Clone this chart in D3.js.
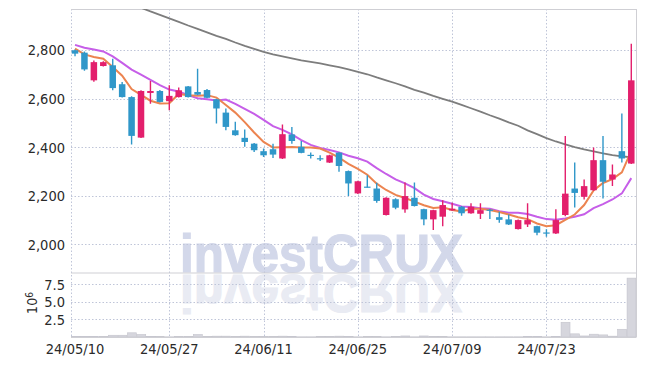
<!DOCTYPE html>
<html><head><meta charset="utf-8">
<script src="https://cdn.jsdelivr.net/npm/d3@7"></script>
<style>
html,body{margin:0;padding:0;background:#fff;}
svg{display:block;}
.lab text{font-family:"Liberation Sans Narrow","DejaVu Sans Condensed",sans-serif;}
.wm text{font-family:"Liberation Sans",Arial,sans-serif;font-weight:bold;}
</style></head>
<body><svg id="c" width="645" height="366"></svg>
<script>
const dates = ["2024-05-10","2024-05-13","2024-05-14","2024-05-16","2024-05-17","2024-05-20","2024-05-21","2024-05-22","2024-05-23","2024-05-24",
"2024-05-27","2024-05-28","2024-05-29","2024-05-30","2024-05-31","2024-06-03","2024-06-04","2024-06-05","2024-06-07","2024-06-10",
"2024-06-11","2024-06-12","2024-06-13","2024-06-14","2024-06-17","2024-06-18","2024-06-19","2024-06-20","2024-06-21","2024-06-24",
"2024-06-25","2024-06-26","2024-06-27","2024-06-28","2024-07-01","2024-07-02","2024-07-03","2024-07-04","2024-07-05","2024-07-08",
"2024-07-09","2024-07-10","2024-07-11","2024-07-12","2024-07-15","2024-07-16","2024-07-17","2024-07-18","2024-07-19","2024-07-22",
"2024-07-23","2024-07-24","2024-07-25","2024-07-26","2024-07-29","2024-07-30","2024-07-31","2024-08-01","2024-08-02","2024-08-05"];
const open  = [2800,2790,2676,2735,2738,2660,2607,2440,2624,2632, 2590,2607,2651,2628,2636,2598,2543,2470,2439,2415, 2384,2392,2354,2453,2402,2369,2355,2337,2378,2302, 2210,2238,2230,2121,2186,2144,2192,2145,2103,2114, 2140,2155,2128,2126,2143,2112,2103,2063,2082,2075, 2049,2045,2121,2230,2196,2223,2347,2267,2384,2333];
const high  = [2803,2795,2758,2755,2765,2669,2610,2635,2673,2636, 2656,2646,2653,2724,2640,2600,2560,2505,2473,2418, 2395,2415,2494,2484,2426,2379,2367,2369,2380,2304, 2262,2285,2254,2194,2190,2255,2255,2147,2143,2182, 2171,2158,2169,2169,2146,2134,2123,2102,2169,2077, 2062,2145,2447,2337,2267,2399,2447,2329,2539,2827];
const low   = [2775,2716,2670,2733,2635,2605,2412,2438,2580,2585, 2553,2605,2605,2615,2602,2498,2470,2448,2402,2381, 2360,2356,2352,2415,2375,2354,2344,2335,2299,2199, 2208,2234,2171,2119,2145,2130,2156,2079,2059,2075, 2138,2118,2126,2104,2104,2089,2080,2061,2072,2038, 2031,2043,2116,2152,2185,2221,2189,2240,2337,2331];
const close = [2786,2721,2751,2751,2644,2607,2447,2632,2632,2587, 2612,2635,2607,2617,2604,2560,2484,2450,2422,2388, 2367,2370,2454,2426,2377,2366,2353,2367,2323,2251, 2260,2236,2179,2192,2151,2199,2158,2103,2141,2162, 2147,2128,2155,2141,2138,2101,2082,2100,2100,2048, 2047,2100,2209,2212,2240,2347,2258,2288,2354,2676];
const ma5   = [2807,2783,2772,2765,2731,2695,2640,2616,2592,2581, 2582,2620,2615,2612,2615,2605,2574,2543,2504,2461, 2422,2399,2400,2401,2399,2399,2395,2378,2357,2332, 2311,2287,2250,2224,2204,2191,2176,2161,2150,2153, 2142,2136,2147,2147,2142,2133,2123,2112,2104,2086, 2075,2079,2101,2123,2162,2222,2253,2269,2297,2385];
const ma10  = [2822,2810,2803,2795,2775,2748,2720,2700,2678,2656, 2638,2630,2615,2602,2598,2593,2597,2579,2558,2538, 2513,2487,2472,2453,2430,2410,2397,2389,2379,2365, 2355,2341,2314,2290,2268,2251,2232,2205,2187,2178, 2167,2156,2154,2149,2147,2137,2130,2130,2125,2114, 2104,2101,2107,2114,2124,2149,2166,2185,2210,2273];
const ma60  = [3075,3061,3046,3032,3018,3003,2989,2975,2960,2946, 2931,2917,2902,2888,2874,2859,2847,2832,2818,2806, 2793,2783,2775,2767,2758,2752,2746,2738,2730,2721, 2711,2701,2688,2676,2664,2651,2637,2625,2612,2600, 2588,2575,2561,2547,2532,2518,2503,2489,2470,2454, 2438,2424,2412,2401,2391,2383,2375,2368,2363,2359];
const volume = [0.1,0.1,0.1,0.05,0.25,0.25,0.6,0.35,0.1,0.05, 0.03,0.05,0.05,0.35,0.05,0.12,0.12,0.05,0.12,0.05, 0.05,0.05,0.12,0.1,0.03,0.03,0.05,0.05,0.12,0.1, 0.03,0.05,0.05,0.03,0.05,0.15,0.03,0.15,0.05,0.05, 0.03,0.03,0.03,0.03,0.03,0.03,0.03,0.03,0.1,0.1, 0.03,0.1,2.1,0.45,0.15,0.4,0.3,0.12,1.1,8.4];
const priceTicks = [2000,2200,2400,2600,2800];
const volTicks = [2.5,5.0,7.5];
const dateTickIdx = [0,10,20,30,40,50];
const watermark = "investCRUX";

const svg = d3.select("#c");
const L = 71, R = 636, T = 9, MB = 272.5, VB = 337;
const x = d3.scaleBand().domain(dates).range([70.3, 636]).padding(0);
const cx = d => x(d) + x.bandwidth()/2;
const y = d3.scaleLinear().domain([1884, 2970]).range([MB, T]);
const yv = d3.scaleLinear().domain([0, 9.2]).range([VB, MB]);
const fmtDate = d3.timeFormat("%y/%m/%d"), parse = d3.timeParse("%Y-%m-%d");

const defs = svg.append("defs");
defs.append("clipPath").attr("id","mainClip").append("rect").attr("x",L).attr("y",T).attr("width",R-L).attr("height",MB-T);
defs.append("clipPath").attr("id","volClip").append("rect").attr("x",L).attr("y",MB+1).attr("width",R-L).attr("height",VB-MB-1);
defs.append("clipPath").attr("id","wmClip").append("rect").attr("x",L).attr("y",T).attr("width",R-L).attr("height",MB-T+1);

// watermark
const wm = svg.append("g").attr("class","wm");
wm.append("g").attr("clip-path","url(#wmClip)").append("text").attr("x",180).attr("y",271.5)
  .attr("font-size",53).attr("fill","#d3d8ea").attr("stroke","#d3d8ea").attr("stroke-width",1.2)
  .attr("textLength",283).attr("lengthAdjust","spacingAndGlyphs").text(watermark);
wm.append("g").attr("clip-path","url(#volClip)").append("text")
  .attr("transform","translate(0,546) scale(1,-1)")
  .attr("x",180).attr("y",271.5)
  .attr("font-size",53).attr("fill","#e9ebf3").attr("stroke","#e9ebf3").attr("stroke-width",1.2)
  .attr("textLength",283).attr("lengthAdjust","spacingAndGlyphs").text(watermark);

// grid
const grid = svg.append("g").attr("stroke","#bfc5d8").attr("stroke-width",1).attr("stroke-dasharray","1.5,2");
grid.selectAll(".hy").data(priceTicks).join("line").attr("x1",L).attr("x2",R)
  .attr("y1",d=>Math.round(y(d))+0.5).attr("y2",d=>Math.round(y(d))+0.5);
grid.selectAll(".hv").data(volTicks).join("line").attr("x1",L).attr("x2",R)
  .attr("y1",d=>Math.round(yv(d))+0.5).attr("y2",d=>Math.round(yv(d))+0.5);
grid.selectAll(".vx").data(dateTickIdx.slice(1)).join("line")
  .attr("x1",i=>Math.round(cx(dates[i]))+0.5).attr("x2",i=>Math.round(cx(dates[i]))+0.5).attr("y1",T).attr("y2",VB);
grid.append("line").attr("x1",L+0.5).attr("x2",L+0.5).attr("y1",T).attr("y2",VB);

// frame
const fr = svg.append("g").attr("stroke","#cfcfd4").attr("stroke-width",1);
fr.append("line").attr("x1",L).attr("x2",R+0.5).attr("y1",T+0.5).attr("y2",T+0.5);
fr.append("line").attr("x1",R+0.5).attr("x2",R+0.5).attr("y1",T).attr("y2",VB);
fr.append("line").attr("x1",L).attr("x2",R+0.5).attr("y1",MB+0.5).attr("y2",MB+0.5);
fr.append("line").attr("x1",L).attr("x2",R+0.5).attr("y1",VB+0.5).attr("y2",VB+0.5);

// volume bars
svg.append("g").attr("clip-path","url(#volClip)").selectAll("rect").data(dates).join("rect")
  .attr("x",d=>x(d)+0.5).attr("width",x.bandwidth()-0.5)
  .attr("y",(d,i)=>yv(volume[i])).attr("height",(d,i)=>VB-yv(volume[i]))
  .attr("fill","#d6d6dd").attr("stroke","#c4c4cc").attr("stroke-width",0.6);

// MA lines
const lines = svg.append("g").attr("clip-path","url(#mainClip)").attr("fill","none");
const mk = arr => d3.line().x((d,i)=>cx(dates[i])).y(d=>y(d))(arr);
lines.append("path").attr("d",mk(ma60)).attr("stroke","#7d7d7d").attr("stroke-width",1.8);
lines.append("path").attr("d",mk(ma10)).attr("stroke","#c65ee8").attr("stroke-width",2);
lines.append("path").attr("d",mk(ma5)).attr("stroke","#ec8450").attr("stroke-width",2);

// candles
const PINK = "#e31f6c", BLUE = "#2f97c9";
const bw = 6.5;
const cg = svg.append("g").attr("clip-path","url(#mainClip)");
dates.forEach((d,i)=>{
  const col = close[i] >= open[i] ? PINK : BLUE;
  const xc = cx(d);
  cg.append("line").attr("x1",xc).attr("x2",xc).attr("y1",y(high[i])).attr("y2",y(low[i]))
    .attr("stroke",col).attr("stroke-width",1.4);
  const top = y(Math.max(open[i],close[i])), bot = y(Math.min(open[i],close[i]));
  cg.append("rect").attr("x",xc-bw/2).attr("width",bw).attr("y",top).attr("height",Math.max(1.2,bot-top))
    .attr("fill",col);
});

// axes labels
const lab = svg.append("g").attr("class","lab").attr("fill","#2a2a2a").attr("font-size",14.5);
lab.selectAll(".py").data(priceTicks).join("text").attr("x",65).attr("y",d=>y(d)).attr("dy","0.36em")
  .attr("text-anchor","end").text(d=>d3.format(",")(d));
lab.selectAll(".vy").data(volTicks).join("text").attr("x",65).attr("y",d=>yv(d)).attr("dy","0.36em")
  .attr("text-anchor","end").text(d=>d3.format(".1f")(d));
lab.selectAll(".dx").data(dateTickIdx).join("text").attr("x",i=>cx(dates[i])).attr("y",354)
  .attr("text-anchor","middle").text(i=>fmtDate(parse(dates[i])));
const ex = lab.append("text").attr("transform","translate(37,303) rotate(-90)").attr("text-anchor","middle").attr("font-size",14);
ex.append("tspan").text("10");
ex.append("tspan").attr("dy","-0.45em").attr("font-size",10).text("6");
</script></body></html>
